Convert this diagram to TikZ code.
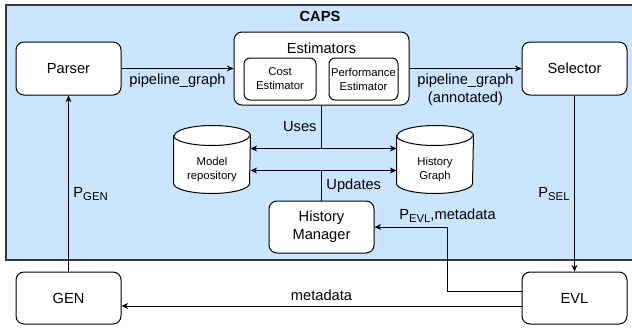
\documentclass[tikz,border=0pt]{standalone}
\usepackage{fontspec}
\setmainfont{Liberation Sans}
\usetikzlibrary{arrows.meta}

\definecolor{capsblue}{RGB}{204,229,255}
\definecolor{capsedge}{RGB}{54,57,61}

% outline of a store drawn round a named node
\newcommand{\dbshape}[1]{%
  \draw [fill=white] ([yshift=-7.5pt]#1.north west) -- ([yshift=7.5pt]#1.south west)
    arc [start angle=180, end angle=360, x radius=28.5pt, y radius=7.5pt]
    -- ([yshift=-7.5pt]#1.north east)
    arc [start angle=0, end angle=180, x radius=28.5pt, y radius=7.5pt] -- cycle;
  \draw ([yshift=-7.5pt]#1.north west)
    arc [start angle=180, end angle=360, x radius=28.5pt, y radius=7.5pt];}
% lowered index text
\newcommand{\lowidx}[1]{\raisebox{-0.3ex}{\fontsize{8.5}{9}\selectfont #1}}

\begin{document}
\begin{tikzpicture}[x=0.75pt, y=-0.75pt, line width=0.75pt,
    >={Stealth[length=5pt,width=4.5pt]},
    box/.style={draw, rounded corners=6pt, fill=white, align=center,
      font=\fontsize{11}{13.5}\selectfont},
    smallbox/.style={box, rounded corners=4.5pt, font=\fontsize{8.5}{10.5}\selectfont},
    db/.style={inner sep=0pt, minimum width=57pt, minimum height=50.25pt},
    dbtext/.style={align=center, font=\fontsize{8.5}{11}\selectfont},
    lbl/.style={font=\fontsize{11}{13.5}\selectfont, align=center}]
    \useasboundingbox (0,0) rectangle (632,329);
    % the CAPS region
    \draw [fill=capsblue, draw=capsedge, line width=1.5pt] (6,5) rectangle (645,260);
    \node [lbl, font=\bfseries\fontsize{11}{13.5}\selectfont] (caps) at (320,16) {CAPS};

    \node [box, minimum width=78.75pt, minimum height=39.75pt] (parser) at (68.5,68.5) {Parser};
    \node [box, minimum width=78.75pt, minimum height=39.75pt] (sel) at (574.5,68.5) {Selector};
    \node [box, minimum width=131.25pt, minimum height=54.75pt] (est) at (321.5,68.5) {};
    \node [lbl] (esttitle) at (321.5,48) {Estimators};
    \node [smallbox, minimum width=54pt, minimum height=31.5pt] (cost) at (280,79) {Cost\\Estimator};
    \node [smallbox, minimum width=51.75pt, minimum height=31.5pt, inner xsep=1pt] (perf) at (363.5,79) {Performance\\Estimator};

    % the two stores
    \node [db] (model) at (212,159.5) {};
    \dbshape{model}
    \node [dbtext] (modeltext) at (212,169.5) {Model\\repository};
    \node [db] (hist) at (435,159.5) {};
    \dbshape{hist}
    \node [dbtext] (histtext) at (435,169.5) {History\\Graph};
    \node [box, minimum width=78.75pt, minimum height=39pt] (hm) at (321.5,227) {History\\Manager};

    \node [box, minimum width=78.75pt, minimum height=39pt] (gen) at (68.5,298) {GEN};
    \node [box, minimum width=78.75pt, minimum height=39pt] (evl) at (574.5,298) {EVL};

    % pipeline flow
    \draw [->] (parser) -- (est) node [lbl, midway, below] {pipeline\_graph};
    \draw [->] (est) -- (sel) node [lbl, midway, below] {pipeline\_graph\\(annotated)};
    \draw [->] (gen) -- (parser) node [lbl, pos=0.44, right] {P\lowidx{GEN}};
    \draw [->] (sel) -- (evl) node [lbl, pos=0.56, left] {P\lowidx{SEL}};

    % estimators read the stores, the history manager writes them
    \draw (est.south) -- ++(0,43) coordinate (uses) node [lbl, pos=0.5, left] {Uses};
    \draw [->] (uses) -- (uses -| model.east);
    \draw [->] (uses) -- (uses -| hist.west);
    \draw (hm.north) -- ++(0,-30) coordinate (upd) node [lbl, pos=0.5, right] {Updates};
    \draw [->] (upd) -- (upd -| model.east);
    \draw [->] (upd) -- (upd -| hist.west);

    % feedback from EVL
    \draw [->] ([yshift=5.25pt]evl.west) -- ++(-74,0) |- (hm.east)
      node [lbl, pos=0.5, above] {P\lowidx{EVL},metadata};
    \draw [->] ([yshift=-6pt]evl.west) -- ([yshift=-6pt]gen.east)
      node [lbl, midway, above] {metadata};
\end{tikzpicture}
\end{document}
